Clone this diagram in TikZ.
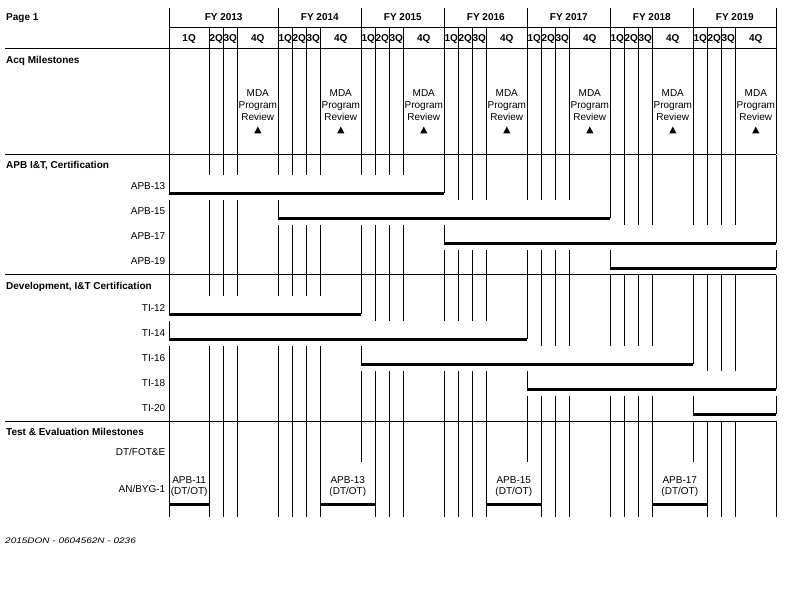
\documentclass[tikz,border=0pt]{standalone}
\usepackage{fontspec}
\usepackage{graphicx}
\setmainfont{Liberation Sans}
\def\G{169,209.3,223.3,237.3,278.3,292.3,306.3,320.3,361.3,375.3,389.3,403.3,444.3,458.3,472.3,486.3,527.3,541.3,555.3,569.3,610.3,624.3,638.3,652.3,693.3,707.3,721.3,735.3,776.3}
\def\Gb{169,209.3,223.3,237.3,278.3,292.3,306.3,320.3,375.3,389.3,403.3,444.3,458.3,472.3,486.3,541.3,555.3,569.3,610.3,624.3,638.3,652.3,707.3,721.3,735.3,776.3}
\newcommand\ganttplainrow[2]{%
  \foreach \x in \G {\draw[gridline] (\x,#1+0.4) -- (\x,#2-0.4);}}
\newcommand\ganttbarrow[5]{%
  \foreach \x in \G {%
    \ifdim\x pt<#3pt \draw[gridline] (\x,#1+0.4) -- (\x,#2-0.4);\fi
    \ifdim\x pt>#4pt \draw[gridline] (\x,#1+0.4) -- (\x,#2-0.4);\fi
    \ifdim\x pt=#3pt \draw[gridline] (\x,#1+0.4) -- (\x,#5);\fi
    \ifdim\x pt=#4pt \draw[gridline] (\x,#1+0.4) -- (\x,#5);\fi
  }%
  \draw[barline] (#3,#5) -- (#4,#5);}
\begin{document}
\begin{tikzpicture}[x=1pt,y=-1pt,
  gridline/.style={line width=1pt},
  barline/.style={line width=2.7pt},
  rowlab/.style={anchor=base east,inner sep=0pt,font=\fontsize{10}{12}\selectfont},
  headlab/.style={anchor=base west,inner sep=0pt,font=\fontsize{10}{12}\selectfont\bfseries},
  collab/.style={anchor=base,inner sep=0pt,font=\fontsize{10}{12}\selectfont\bfseries},
  midlab/.style={anchor=base,inner sep=0pt,font=\fontsize{10}{12}\selectfont}]
\useasboundingbox (0,0) rectangle (792,612);
% header grid
\foreach \x in {169,278.3,361.3,444.3,527.3,610.3,693.3,776.3} \draw[gridline] (\x,8.3) -- (\x,49);
\foreach \x in {209.3,223.3,237.3,292.3,306.3,320.3,375.3,389.3,403.3,458.3,472.3,486.3,541.3,555.3,569.3,624.3,638.3,652.3,707.3,721.3,735.3}
  \draw[gridline] (\x,28) -- (\x,49);
\draw[gridline] (169,28) -- (776.3,28);
\foreach \y in {49,154.3,275,421} \draw[gridline] (5,\y) -- (776.3,\y);
% rows
\ganttplainrow{49}{71}
\ganttplainrow{71}{154.3}
\ganttplainrow{154.3}{175}
\ganttbarrow{175}{200}{169}{444.3}{193.3}
\ganttbarrow{200}{225}{278.3}{610.3}{218.3}
\ganttbarrow{225}{250}{444.3}{776.3}{243.3}
\ganttbarrow{250}{275}{610.3}{776.3}{268.3}
\ganttplainrow{275}{296}
\ganttbarrow{296}{321}{169}{361.3}{314.3}
\ganttbarrow{321}{346}{169}{527.3}{339.3}
\ganttbarrow{346}{371}{361.3}{693.3}{364.3}
\ganttbarrow{371}{396}{527.3}{776.3}{389.3}
\ganttbarrow{396}{421}{693.3}{776.3}{414.3}
\ganttplainrow{421}{442}
\ganttplainrow{442}{462}
\foreach \x in \Gb {\draw[gridline] (\x,462.4) -- (\x,516.7);}
\foreach \a/\b in {169/209.3,320.3/375.3,486.3/541.3,652.3/707.3}
  \draw[barline] (\a,504.3) -- (\b,504.3);
% header texts
\node[headlab] (page) at (6,20.5) {Page 1};
\foreach \c/\t [count=\i] in {223.65/2013,319.8/2014,402.8/2015,485.8/2016,568.8/2017,651.8/2018,734.8/2019}
  \node[collab] (fy\i) at (\c,20.7) {FY \t};
\node[collab] (q1a) at (189.15,42) {1Q};
\node[collab] (q2a) at (216.3,42) {2Q};
\node[collab] (q3a) at (230.3,42) {3Q};
\node[collab] (q4a) at (257.8,42) {4Q};
\foreach \s [count=\i] in {278.3,361.3,444.3,527.3,610.3,693.3}{
  \node[collab] (q1y\i) at (\s+7,42) {1Q};
  \node[collab] (q2y\i) at (\s+21,42) {2Q};
  \node[collab] (q3y\i) at (\s+35,42) {3Q};
  \node[collab] (q4y\i) at (\s+62.5,42) {4Q};
}
% section headings
\node[headlab] (hacq) at (6,63.3) {Acq Milestones};
\node[headlab] (hapb) at (6,168.3) {APB I\&T, Certification};
\node[headlab] (hdev) at (6,289.3) {Development, I\&T Certification};
\node[headlab] (htest) at (6,435) {Test \& Evaluation Milestones};
% milestones
\foreach \c [count=\i] in {257.8,340.8,423.8,506.8,589.8,672.8,755.8}{
  \node[midlab] (mdaa\i) at (\c,96.6) {MDA};
  \node[midlab] (mdab\i) at (\c,108.4) {Program};
  \node[midlab] (mdac\i) at (\c,120.2) {Review};
  \fill (\c-3.6,133.4) -- (\c+3.6,133.4) -- (\c,126.6) -- cycle;
}
% row labels
\node[rowlab] (l1) at (165.5,189.8) {APB-13};
\node[rowlab] (l2) at (165.5,215) {APB-15};
\node[rowlab] (l3) at (165.5,240) {APB-17};
\node[rowlab] (l4) at (165.5,265) {APB-19};
\node[rowlab] (l5) at (165.5,311) {TI-12};
\node[rowlab] (l6) at (165.5,336) {TI-14};
\node[rowlab] (l7) at (165.5,361) {TI-16};
\node[rowlab] (l8) at (165.5,386) {TI-18};
\node[rowlab] (l9) at (165.5,411) {TI-20};
\node[rowlab] (l10) at (165.5,455.7) {DT/FOT\&E};
\node[rowlab] (l11) at (165.5,492.7) {AN/BYG-1};
% test milestones
\foreach \c/\t [count=\i] in {189.15/11,347.8/13,513.8/15,679.8/17}{
  \node[midlab] (ta\i) at (\c,483.3) {APB-\t};
  \node[midlab] (tb\i) at (\c,494.3) {(DT/OT)};
}
% footer
\node[anchor=base west,inner sep=0pt,font=\fontsize{8}{10}\selectfont\itshape] (foot) at (5,543) {\scalebox{1.25}[1]{2015DON - 0604562N - 0236}};
\end{tikzpicture}
\end{document}
